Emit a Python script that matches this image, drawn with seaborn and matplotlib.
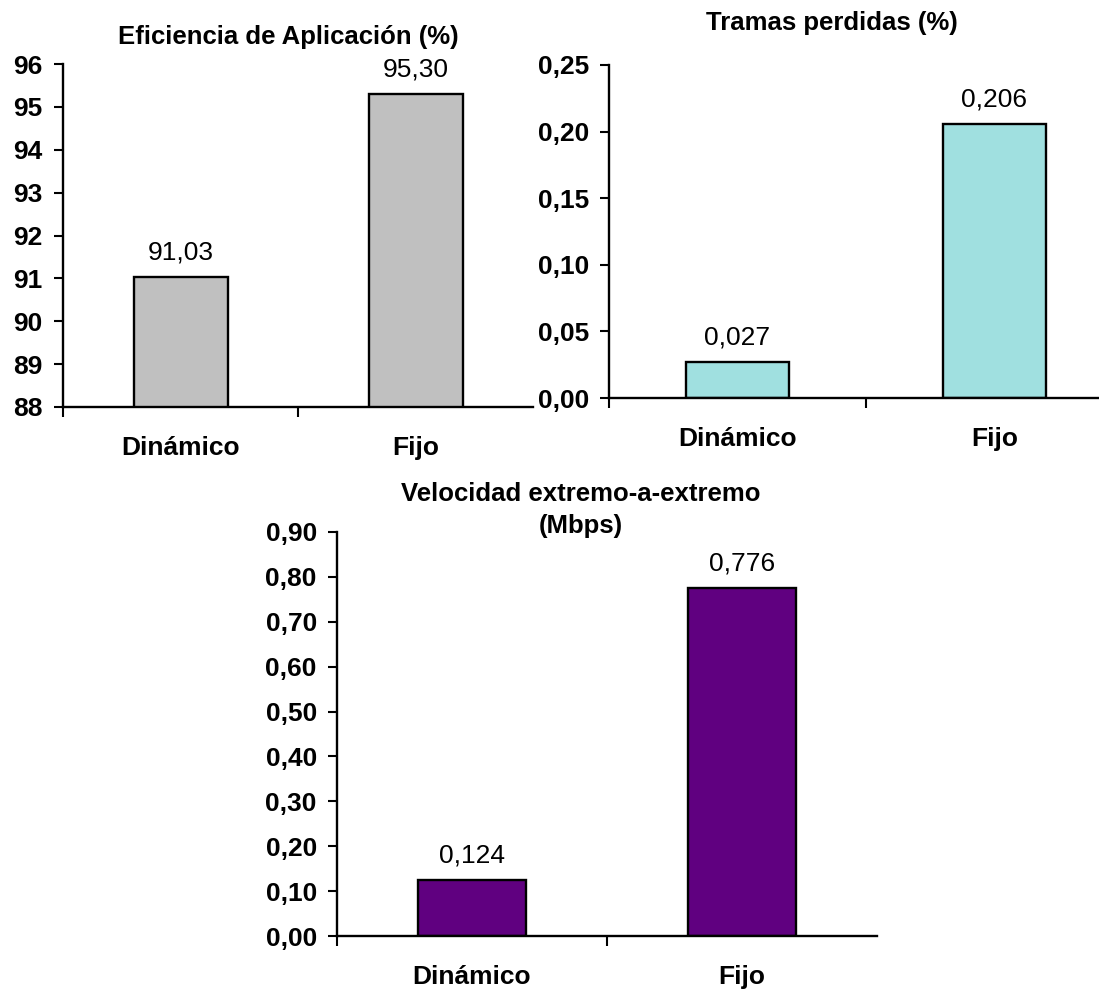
import matplotlib
matplotlib.use("Agg")
import matplotlib.pyplot as plt
import seaborn as sns
from matplotlib.ticker import FuncFormatter

# data
categorias = ["Dinámico", "Fijo"]
eficiencia = [91.03, 95.30]
eficiencia_txt = ["91,03", "95,30"]
tramas = [0.027, 0.206]
tramas_txt = ["0,027", "0,206"]
velocidad = [0.124, 0.776]
velocidad_txt = ["0,124", "0,776"]

sns.set_style("white")
plt.rcParams['font.family'] = ['Liberation Sans', 'DejaVu Sans']
plt.rcParams['text.color'] = 'black'
plt.rcParams['xtick.color'] = 'black'
plt.rcParams['ytick.color'] = 'black'

W, H = 1099, 994
fig = plt.figure(figsize=(W / 100, H / 100), dpi=100)

FS = 19      # ticks / values
FT = 18.5    # titles


def px_axes(x0, y0, x1, y1):
    # pixel box (top-left origin) -> figure axes
    return fig.add_axes([x0 / W, 1 - y1 / H, (x1 - x0) / W, (y1 - y0) / H])


def comma_fmt(dec):
    return FuncFormatter(lambda v, p: f"{v:.{dec}f}".replace(".", ","))


def panel(ax, vals, txts, color, ylim, step, dec):
    sns.barplot(x=categorias, y=vals, color=color, saturation=1, width=0.4,
                edgecolor="black", linewidth=1.7, ax=ax)
    ax.set_xlim(-0.5, 1.5)
    ax.set_ylim(*ylim)
    n = int(round((ylim[1] - ylim[0]) / step))
    ax.set_yticks([ylim[0] + i * step for i in range(n + 1)])
    ax.yaxis.set_major_formatter(comma_fmt(dec))
    # boundary ticks between categories, labels centred under the bars
    ax.set_xticks([-0.5, 0.5])
    ax.set_xticklabels([])
    ax.set_xticks([0, 1], minor=True)
    ax.set_xticklabels(categorias, minor=True, fontsize=FS, fontweight="bold")
    ax.tick_params(axis="x", which="major", direction="out", length=7, width=1.5,
                   color="black", bottom=True)
    ax.tick_params(axis="x", which="minor", length=0, pad=21)
    ax.tick_params(axis="y", direction="out", length=6.5, width=1.5, color="black",
                   left=True, pad=8, labelsize=FS)
    for lab in ax.get_yticklabels():
        lab.set_fontweight("bold")
    for s in ["top", "right"]:
        ax.spines[s].set_visible(False)
    for s in ["left", "bottom"]:
        ax.spines[s].set_linewidth(1.7)
        ax.spines[s].set_color("black")
    ax.bar_label(ax.containers[0], labels=txts, padding=9, fontsize=FS)
    ax.set_xlabel("")
    ax.set_ylabel("")


ax1 = px_axes(63, 64, 533, 407)
panel(ax1, eficiencia, eficiencia_txt, "#C0C0C0", (88, 96), 1, 0)

ax2 = px_axes(609, 65, 1123, 398)
panel(ax2, tramas, tramas_txt, "#A0E0E0", (0, 0.25), 0.05, 2)

ax3 = px_axes(337, 532, 877, 936)
panel(ax3, velocidad, velocidad_txt, "#600080", (0, 0.9), 0.1, 2)

fig.text(288 / W, 1 - 37 / H, "Eficiencia de Aplicación (%)", ha="center", va="center",
         fontsize=FT, fontweight="bold")
fig.text(832 / W, 1 - 23 / H, "Tramas perdidas (%)", ha="center", va="center",
         fontsize=FT, fontweight="bold")
fig.text(581 / W, 1 - 510 / H, "Velocidad extremo-a-extremo\n(Mbps)", ha="center",
         va="center", fontsize=FT, fontweight="bold", linespacing=1.4)

fig.savefig("out.png", dpi=100)
